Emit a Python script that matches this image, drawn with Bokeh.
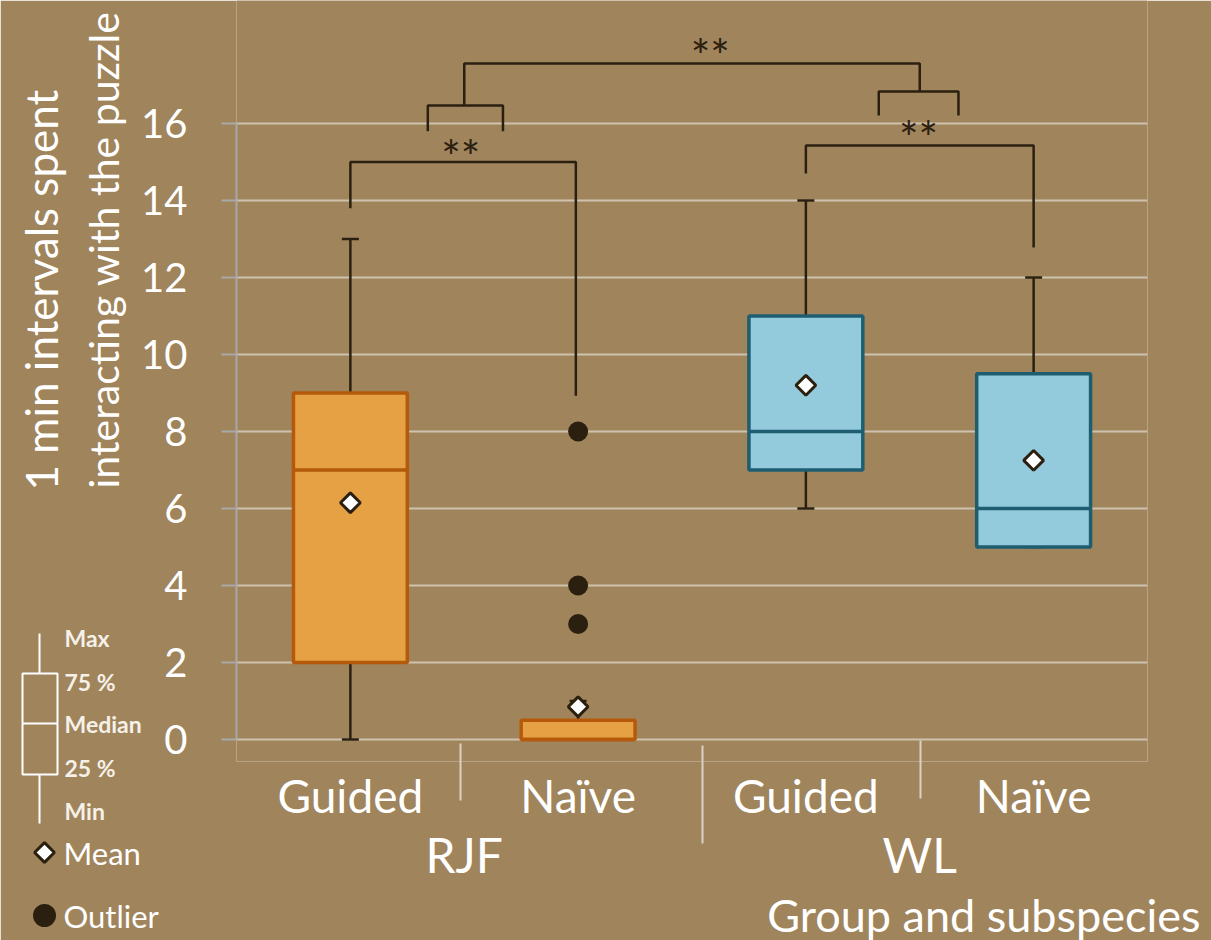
import math
from bokeh.plotting import figure
from bokeh.models import FactorRange, Range1d, FixedTicker, Column
from bokeh.core.properties import value
from bokeh.embed import file_html
from bokeh.resources import INLINE

# ---------------- data ----------------
subspecies = ["RJF", "RJF", "WL", "WL"]
groups = ["Guided", "Naïve", "Guided", "Naïve"]
q_min = [0, 0, 6, 5]
q1 = [2, 0, 7, 5]
median = [7, 0, 8, 6]
q3 = [9, 0.5, 11, 9.5]
q_max = [13, 1, 14, 12]
means = [6.15, 0.85, 9.2, 7.25]
outlier_sub = ["RJF", "RJF", "RJF"]
outlier_grp = ["Naïve", "Naïve", "Naïve"]
outlier_values = [8, 4, 3]
y_ticks = [0, 2, 4, 6, 8, 10, 12, 14, 16]

# significance brackets (x in category units: 0..4)
br_x0 = [0.5, 2.5, 0.84, 2.82, 1.0]
br_x1 = [1.49, 3.5, 1.17, 3.17, 3.0]
br_top = [15.0, 15.43, 16.47, 16.83, 17.56]
br_left_end = [13.8, 14.7, 15.8, 16.21, 16.47]
br_right_end = [8.93, 12.78, 15.8, 16.21, 16.83]
star_x = [0.985, 2.995, 2.08]
star_y = [15.14, 15.64, 17.77]
star_text = ["**", "**", "**"]

# key / titles
key_labels = ["Max", "75 %", "Median", "25 %", "Min"]
y_title_1 = "1 min intervals spent"
y_title_2 = "interacting with the puzzle"
x_title = "Group and subspecies"

# ---------------- style ----------------
BG = "#A0845C"
DARK = "#2B2010"
WHITE = "#FFFFFF"
FONT = "Lato"
fill_colors = ["#E5A144", "#E5A144", "#93CBDC", "#93CBDC"]
line_colors = ["#B45A0A", "#B45A0A", "#1F5E70", "#1F5E70"]

factors = list(zip(subspecies, groups))
outlier_factors = list(zip(outlier_sub, outlier_grp))

W, H = 1211, 940

p = figure(width=W, height=H,
           x_range=FactorRange(*factors, factor_padding=0, group_padding=0,
                               subgroup_padding=0, range_padding=0),
           y_range=Range1d(-0.5714, 19.1948),
           output_backend="svg", toolbar_location=None,
           min_border_left=236, min_border_right=64,
           min_border_top=0, min_border_bottom=179)

p.background_fill_color = BG
p.border_fill_color = BG
p.outline_line_color = None

# grid
p.xgrid.grid_line_color = None
p.ygrid.ticker = FixedTicker(ticks=y_ticks)
p.ygrid.grid_line_color = "#CEC2AD"
p.ygrid.grid_line_width = 2

# y axis
p.yaxis.ticker = FixedTicker(ticks=y_ticks)
p.yaxis.bounds = (0, 16)
p.yaxis.axis_line_color = "#A8A8A8"
p.yaxis.axis_line_width = 2
p.yaxis.major_tick_line_color = "#A8A8A8"
p.yaxis.major_tick_line_width = 2
p.yaxis.major_tick_out = 15
p.yaxis.major_tick_in = 0
p.yaxis.minor_tick_line_color = None
p.yaxis.major_label_text_font = FONT
p.yaxis.major_label_text_font_size = "40px"
p.yaxis.major_label_text_color = WHITE
p.yaxis.major_label_standoff = 34

# x axis
p.xaxis.axis_line_color = None
p.xaxis.major_tick_line_color = None
p.xaxis.minor_tick_line_color = None
p.xaxis.separator_line_color = None
p.xaxis.major_label_text_font = FONT
p.xaxis.major_label_text_font_size = "46px"
p.xaxis.major_label_text_color = WHITE
p.xaxis.major_label_standoff = 0
p.xaxis.group_text_font = FONT
p.xaxis.group_text_font_style = "normal"
p.xaxis.group_text_font_size = "48px"
p.xaxis.group_text_color = WHITE

# whiskers
p.segment(x0=factors, y0=q3, x1=factors, y1=q_max, line_color=DARK, line_width=2.5)
p.segment(x0=factors, y0=q1, x1=factors, y1=q_min, line_color=DARK, line_width=2.5)
p.scatter(x=factors, y=q_max, marker="dash", size=17, line_color=DARK, line_width=2.5)
p.scatter(x=factors, y=q_min, marker="dash", size=17, line_color=DARK, line_width=2.5)

# boxes + medians
p.vbar(x=factors, width=0.5, bottom=q1, top=q3, fill_color=fill_colors,
       line_color=line_colors, line_width=3.5)
p.vbar(x=factors, width=0.5, bottom=median, top=median, fill_alpha=0,
       line_color=line_colors, line_width=3.5)

# outliers and means
p.scatter(x=outlier_factors, y=outlier_values, marker="circle", size=20,
          fill_color=DARK, line_color=None)
p.scatter(x=factors, y=means, marker="square", angle=math.pi / 4, size=14,
          fill_color=WHITE, line_color=DARK, line_width=3)

# significance brackets
xs = [[a, a, b, b] for a, b in zip(br_x0, br_x1)]
ys = [[l, t, t, r] for l, t, r in zip(br_left_end, br_top, br_right_end)]
p.multi_line(xs=xs, ys=ys, line_color=DARK, line_width=2.5)
p.text(x=star_x, y=star_y, text=star_text, text_align="center", text_baseline="middle",
       text_font=value(FONT), text_font_size="46px", text_color=DARK)

# ---------------- transparent overlay (page pixels) for key and titles ----------------
ov = figure(width=W, height=H, x_range=Range1d(0, W), y_range=Range1d(H, 0),
            x_axis_location=None, y_axis_location=None,
            output_backend="svg", toolbar_location=None,
            min_border_left=0, min_border_right=0, min_border_top=0, min_border_bottom=0)
ov.grid.visible = False
ov.background_fill_alpha = 0
ov.border_fill_alpha = 0
ov.outline_line_color = None
ov.margin = (-H, 0, 0, 0)
for fig in (p, ov):
    if "frame_align" in fig.properties():
        fig.frame_align = False

# axis titles
ov.text(x=[40], y=[490], text=[y_title_1], angle=math.pi / 2,
        text_align="left", text_baseline="middle", text_font=value(FONT),
        text_font_size="44px", text_color=WHITE)
ov.text(x=[103], y=[488], text=[y_title_2], angle=math.pi / 2,
        text_align="left", text_baseline="middle", text_font=value(FONT),
        text_font_size="41px", text_color=WHITE)
ov.text(x=[1200], y=[914], text=[x_title], text_align="right",
        text_baseline="middle", text_font=value(FONT),
        text_font_size="45px", text_color=WHITE)

# category separators under the axis
ov.segment(x0=[460, 702, 920], y0=[743, 745, 740], x1=[460, 702, 920],
           y1=[800, 843, 798], line_color="#D9D2C4", line_width=2)

# box-plot key
ov.segment(x0=[39, 39, 22], y0=[633, 774, 723], x1=[39, 39, 57], y1=[673, 823, 723],
           line_color=WHITE, line_width=2)
ov.quad(left=[22], right=[57], top=[673], bottom=[774], fill_alpha=0,
        line_color=WHITE, line_width=2)
ov.text(x=[64] * 5, y=[637, 681, 723, 767, 810], text=key_labels,
        text_align="left", text_baseline="middle", text_font=value(FONT),
        text_font_style="bold", text_font_size="23px", text_color="#F6F1E8")
ov.scatter(x=[44], y=[852], marker="square", angle=math.pi / 4, size=14,
           fill_color=WHITE, line_color=DARK, line_width=3)
ov.scatter(x=[44], y=[915], marker="circle", size=23, fill_color=DARK, line_color=None)
ov.text(x=[63, 63], y=[852, 915], text=["Mean", "Outlier"], text_align="left",
        text_baseline="middle", text_font=value(FONT), text_font_size="31px",
        text_color=WHITE)

layout = Column(children=[p, ov])
open("out.html", "w").write(file_html(layout, INLINE))
